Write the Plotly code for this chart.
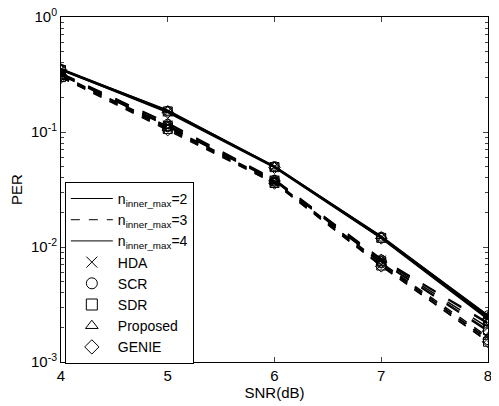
import plotly.graph_objects as go

snr = [4, 5, 6, 7, 8]

detectors = ["HDA", "SCR", "SDR", "Proposed", "GENIE"]
symbols = ["x-thin-open", "circle-open", "square-open", "triangle-up-open", "diamond-open"]

# PER, one list per detector, for each n_inner_max
per_n2 = {
    "HDA":      [0.350, 0.150, 0.0500, 0.0121, 0.00245],
    "SCR":      [0.355, 0.153, 0.0505, 0.0123, 0.00255],
    "SDR":      [0.345, 0.151, 0.0495, 0.0120, 0.00240],
    "Proposed": [0.352, 0.155, 0.0500, 0.0124, 0.00250],
    "GENIE":    [0.348, 0.148, 0.0490, 0.0119, 0.00235],
}
per_n3 = {
    "HDA":      [0.305, 0.108, 0.0365, 0.0070, 0.00160],
    "SCR":      [0.310, 0.110, 0.0370, 0.0072, 0.00155],
    "SDR":      [0.300, 0.106, 0.0360, 0.0069, 0.00150],
    "Proposed": [0.312, 0.112, 0.0372, 0.0073, 0.00165],
    "GENIE":    [0.298, 0.104, 0.0358, 0.0068, 0.00150],
}
per_n4 = {
    "HDA":      [0.318, 0.115, 0.0380, 0.0077, 0.00200],
    "SCR":      [0.322, 0.118, 0.0385, 0.0078, 0.00215],
    "SDR":      [0.315, 0.113, 0.0378, 0.0075, 0.00190],
    "Proposed": [0.325, 0.120, 0.0388, 0.0079, 0.00220],
    "GENIE":    [0.312, 0.112, 0.0375, 0.0074, 0.00185],
}

y_major = [1e-3, 1e-2, 1e-1, 1]
y_major_text = ["10<sup>-3</sup>", "10<sup>-2</sup>", "10<sup>-1</sup>", "10<sup>0</sup>"]
y_minor = [m * 10 ** e for e in (-3, -2, -1) for m in range(2, 10)]

fig = go.Figure()

groups = [(per_n2, "solid", 1.6), (per_n3, "dash", 1.4), (per_n4, "longdash", 1.4)]
for data, dash, width in groups:
    for det, sym in zip(detectors, symbols):
        fig.add_trace(go.Scatter(
            x=snr, y=data[det], mode="lines+markers", showlegend=False,
            line=dict(color="black", width=width, dash=dash),
            marker=dict(symbol=sym, size=9, color="black", line=dict(width=1, color="black")),
        ))

# legend entries
for lab, dash in [("n<sub>inner_max</sub>=2", "solid"),
                  ("n<sub>inner_max</sub>=3", "dash"),
                  ("n<sub>inner_max</sub>=4", "solid")]:
    fig.add_trace(go.Scatter(x=[None], y=[None], mode="lines", name=lab,
                             line=dict(color="black", width=1, dash=dash)))
for det, sym in zip(detectors, symbols):
    fig.add_trace(go.Scatter(x=[None], y=[None], mode="markers", name=det,
                             marker=dict(symbol=sym, size=11, color="black",
                                         line=dict(width=1, color="black"))))

# page body has an 8px margin, so the figure is made 8px smaller and shifted
fig.update_layout(
    width=491, height=398,
    margin=dict(l=53, r=11, t=9, b=44),
    plot_bgcolor="white", paper_bgcolor="white",
    font=dict(family="Liberation Sans, Arial, sans-serif", size=15, color="black"),
    legend=dict(x=0.009, y=0.522, xanchor="left", yanchor="top",
                bgcolor="white", bordercolor="black", borderwidth=1,
                font=dict(size=14), tracegroupgap=0, itemwidth=42),
)
fig.update_xaxes(
    range=[4, 8], tickvals=snr, ticks="inside", ticklen=5, automargin=False,
    showgrid=False, zeroline=False, showline=True, linecolor="black", linewidth=1,
    mirror="ticks", ticklabeloverflow="allow",
    title=dict(text="SNR(dB)", standoff=1, font=dict(size=15)),
)
fig.update_yaxes(
    type="log", range=[-3, 0], tickmode="array", tickvals=y_major, ticktext=y_major_text,
    ticks="inside", ticklen=5, showgrid=False, zeroline=False, automargin=False,
    showline=True, linecolor="black", linewidth=1, mirror="ticks", ticklabeloverflow="allow",
    minor=dict(tickmode="array", tickvals=y_minor, ticks="inside", ticklen=3, showgrid=False),
    title=dict(text="PER", standoff=6, font=dict(size=15)),
)

fig.write_html("out.html")
